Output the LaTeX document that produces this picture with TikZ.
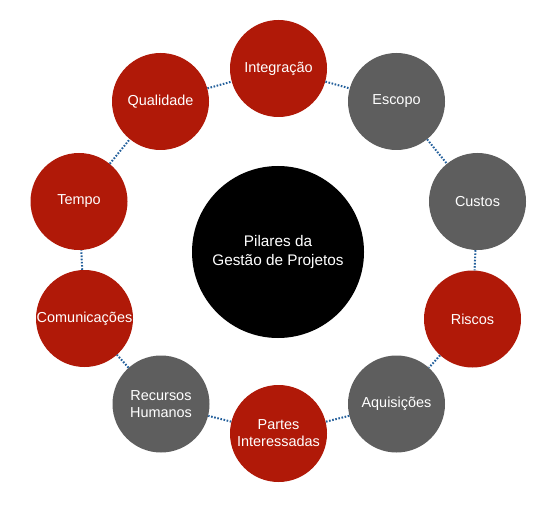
\documentclass[tikz,border=0pt]{standalone}
\usepackage{fontspec}
\setmainfont{Liberation Sans}
\definecolor{pilarred}{RGB}{176,25,8}
\definecolor{pilargray}{RGB}{94,94,94}
\definecolor{linkblue}{RGB}{35,95,155}
\begin{document}
\begin{tikzpicture}[
    x=1bp, y=-1bp,
    pilar/.style={
        circle,
        minimum size=97bp,
        inner sep=0pt,
        align=center,
        text=white,
        font=\fontsize{14.5}{17}\selectfont
    },
    red/.style={pilar, fill=pilarred},
    gray/.style={pilar, fill=pilargray},
    link/.style={
        draw=linkblue,
        line width=2bp,
        dash pattern=on 1.6bp off 1.6bp
    }
]
    \useasboundingbox (0,0) rectangle (548,508);

    \node[circle, fill=black, minimum size=172bp, inner sep=0pt,
        align=center, text=white,
        font=\fontsize{15.4}{18.5}\selectfont] (center) at (278,252)
        {Pilares da\\Gestão de Projetos};

    \node[red]  (integracao)  at (278.5,68.5)  {Integração};
    \node[gray] (escopo)      at (396.5,101.5) {Escopo};
    \node[gray] (custos)      at (477.5,201.5) {Custos};
    \node[red]  (riscos)      at (472.5,319)   {Riscos};
    \node[gray] (aquisicoes)  at (396.5,404)   {Aquisições};
    \node[red]  (partes)      at (278.5,433.5) {Partes\\Interessadas};
    \node[gray] (recursos)    at (161,404)     {Recursos\\Humanos};
    \node[red]  (comunicacoes) at (84.5,318.5) {Comunicações};
    \node[red]  (tempo)       at (79,201.5)    {Tempo};
    \node[red]  (qualidade)   at (160.5,101.5) {Qualidade};

    % Ligações pontilhadas entre os pilares
    \draw[link] (integracao) -- (escopo);
    \draw[link] (escopo) -- (custos);
    \draw[link] (custos) -- (riscos);
    \draw[link] (riscos) -- (aquisicoes);
    \draw[link] (aquisicoes) -- (partes);
    \draw[link] (partes) -- (recursos);
    \draw[link] (recursos) -- (comunicacoes);
    \draw[link] (comunicacoes) -- (tempo);
    \draw[link] (tempo) -- (qualidade);
    \draw[link] (qualidade) -- (integracao);
\end{tikzpicture}
\end{document}
